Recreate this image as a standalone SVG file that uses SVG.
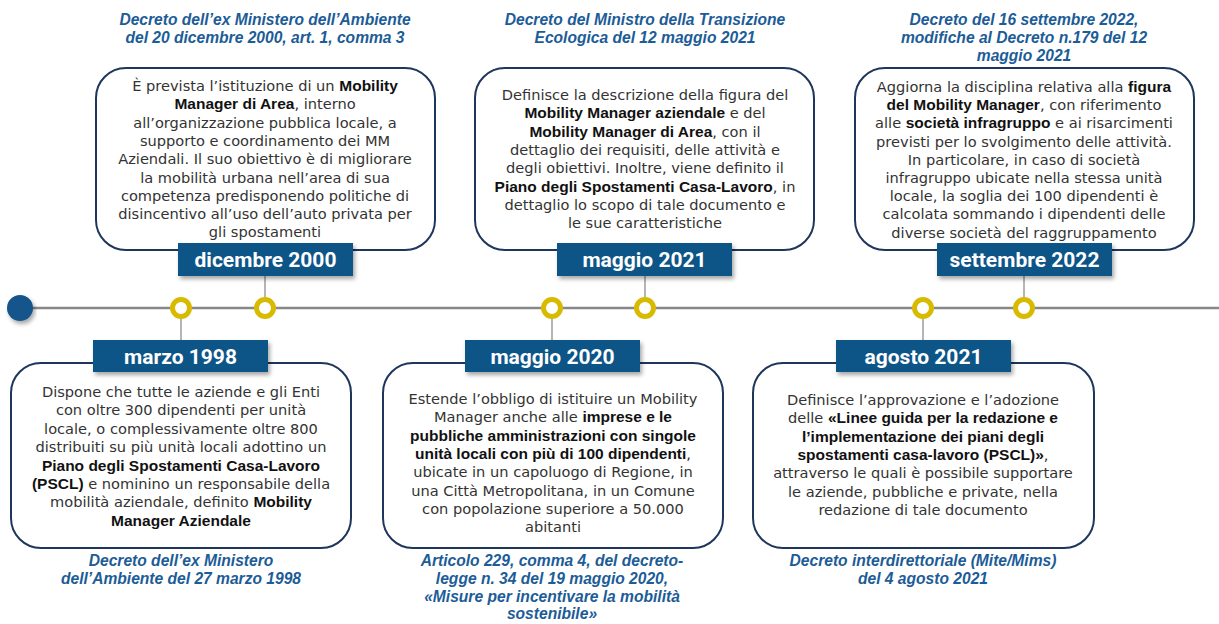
<svg xmlns="http://www.w3.org/2000/svg" width="1219" height="624" viewBox="0 0 1219 624">
<style>
.box{fill:#fff;stroke:#1e355c;stroke-width:2}
.lbl{fill:#0f5587;filter:url(#sh)}
.lt{font-family:Roboto,"Liberation Sans",sans-serif;font-weight:bold;font-size:21px;fill:#fff;text-anchor:middle}
.tx{font-family:"DejaVu Sans",sans-serif;font-size:14.6px;fill:#333;text-anchor:middle}
.b{font-family:"Liberation Sans",sans-serif;font-weight:bold;font-size:15.5px;fill:#111}
.cap{font-family:"Liberation Sans",sans-serif;font-weight:bold;font-style:italic;font-size:15.6px;fill:#1c5c97;text-anchor:middle}
.tl{stroke:#878787;stroke-width:2.5}
.cn{stroke:#9c9c9c;stroke-width:1.5}
.dot{fill:#fff;stroke:#d8bb00;stroke-width:5}
</style>
<defs>
<filter id="sh" x="-10%" y="-30%" width="125%" height="170%">
<feDropShadow dx="2" dy="3" stdDeviation="2" flood-color="#000" flood-opacity="0.35"/>
</filter>
</defs>
<g id="connectors">
<line class="tl" x1="20" y1="308" x2="1219" y2="308"/>
<line class="cn" x1="181" y1="308" x2="181" y2="340"/>
<line class="cn" x1="265" y1="276" x2="265" y2="308"/>
<line class="cn" x1="552" y1="308" x2="552" y2="340"/>
<line class="cn" x1="645" y1="276" x2="645" y2="308"/>
<line class="cn" x1="923" y1="308" x2="923" y2="340"/>
<line class="cn" x1="1024" y1="276" x2="1024" y2="308"/>
</g>
<g id="markers">
<circle cx="20" cy="308" r="13" fill="#14558c" filter="url(#sh)"/>
<circle class="dot" cx="181" cy="308" r="8.5"/>
<circle class="dot" cx="265" cy="308" r="8.5"/>
<circle class="dot" cx="552" cy="308" r="8.5"/>
<circle class="dot" cx="645" cy="308" r="8.5"/>
<circle class="dot" cx="923" cy="308" r="8.5"/>
<circle class="dot" cx="1024" cy="308" r="8.5"/>
</g>
<g id="node-dicembre-2000">
<text class="cap" x="265" y="25">Decreto dell’ex Ministero dell’Ambiente</text>
<text class="cap" x="265" y="43">del 20 dicembre 2000, art. 1, comma 3</text>
<rect class="box" x="96" y="68" width="339" height="182" rx="30"/>
<text class="tx" x="265" y="91">È prevista l’istituzione di un <tspan class="b">Mobility</tspan></text>
<text class="tx" x="265" y="109.3"><tspan class="b">Manager di Area</tspan>, interno</text>
<text class="tx" x="265" y="127.6">all’organizzazione pubblica locale, a</text>
<text class="tx" x="265" y="145.9">supporto e coordinamento dei MM</text>
<text class="tx" x="265" y="164.2">Aziendali. Il suo obiettivo è di migliorare</text>
<text class="tx" x="265" y="182.5">la mobilità urbana nell’area di sua</text>
<text class="tx" x="265" y="200.8">competenza predisponendo politiche di</text>
<text class="tx" x="265" y="219.1">disincentivo all’uso dell’auto privata per</text>
<text class="tx" x="265" y="237.4">gli spostamenti</text>
<rect class="lbl" x="178" y="243" width="175" height="33"/>
<text class="lt" x="265.5" y="267">dicembre 2000</text>
</g>
<g id="node-maggio-2021">
<text class="cap" x="645" y="25">Decreto del Ministro della Transizione</text>
<text class="cap" x="645" y="43">Ecologica del 12 maggio 2021</text>
<rect class="box" x="475" y="68" width="339" height="182" rx="30"/>
<text class="tx" x="645" y="100">Definisce la descrizione della figura del</text>
<text class="tx" x="645" y="118.3"><tspan class="b">Mobility Manager aziendale</tspan> e del</text>
<text class="tx" x="645" y="136.6"><tspan class="b">Mobility Manager di Area</tspan>, con il</text>
<text class="tx" x="645" y="154.9">dettaglio dei requisiti, delle attività e</text>
<text class="tx" x="645" y="173.2">degli obiettivi. Inoltre, viene definito il</text>
<text class="tx" x="645" y="191.5"><tspan class="b">Piano degli Spostamenti Casa-Lavoro</tspan>, in</text>
<text class="tx" x="645" y="209.8">dettaglio lo scopo di tale documento e</text>
<text class="tx" x="645" y="228.1">le sue caratteristiche</text>
<rect class="lbl" x="557" y="243" width="175" height="33"/>
<text class="lt" x="644.5" y="267">maggio 2021</text>
</g>
<g id="node-settembre-2022">
<text class="cap" x="1024" y="25">Decreto del 16 settembre 2022,</text>
<text class="cap" x="1024" y="43">modifiche al Decreto n.179 del 12</text>
<text class="cap" x="1024" y="61">maggio 2021</text>
<rect class="box" x="855" y="68" width="339" height="182" rx="30"/>
<text class="tx" x="1024" y="92">Aggiorna la disciplina relativa alla <tspan class="b">figura</tspan></text>
<text class="tx" x="1024" y="110.2"><tspan class="b">del Mobility Manager</tspan>, con riferimento</text>
<text class="tx" x="1024" y="128.4">alle <tspan class="b">società infragruppo</tspan> e ai risarcimenti</text>
<text class="tx" x="1024" y="146.6">previsti per lo svolgimento delle attività.</text>
<text class="tx" x="1024" y="164.8">In particolare, in caso di società</text>
<text class="tx" x="1024" y="183">infragruppo ubicate nella stessa unità</text>
<text class="tx" x="1024" y="201.2">locale, la soglia dei 100 dipendenti è</text>
<text class="tx" x="1024" y="219.4">calcolata sommando i dipendenti delle</text>
<text class="tx" x="1024" y="237.6">diverse società del raggruppamento</text>
<rect class="lbl" x="937" y="243" width="175" height="33"/>
<text class="lt" x="1024.5" y="267">settembre 2022</text>
</g>
<g id="node-marzo-1998">
<rect class="box" x="11" y="363" width="340" height="185" rx="30"/>
<text class="tx" x="181" y="397">Dispone che tutte le aziende e gli Enti</text>
<text class="tx" x="181" y="415.4">con oltre 300 dipendenti per unità</text>
<text class="tx" x="181" y="433.8">locale, o complessivamente oltre 800</text>
<text class="tx" x="181" y="452.2">distribuiti su più unità locali adottino un</text>
<text class="tx" x="181" y="470.6"><tspan class="b">Piano degli Spostamenti Casa-Lavoro</tspan></text>
<text class="tx" x="181" y="489"><tspan class="b">(PSCL)</tspan> e nominino un responsabile della</text>
<text class="tx" x="181" y="507.4">mobilità aziendale, definito <tspan class="b">Mobility</tspan></text>
<text class="tx" x="181" y="525.8"><tspan class="b">Manager Aziendale</tspan></text>
<rect class="lbl" x="93" y="340" width="175" height="32"/>
<text class="lt" x="180.5" y="363.5">marzo 1998</text>
<text class="cap" x="181" y="566">Decreto dell’ex Ministero</text>
<text class="cap" x="181" y="584">dell’Ambiente del 27 marzo 1998</text>
</g>
<g id="node-maggio-2020">
<rect class="box" x="383" y="363" width="340" height="185" rx="30"/>
<text class="tx" x="553" y="404">Estende l’obbligo di istituire un Mobility</text>
<text class="tx" x="553" y="422.3">Manager anche alle <tspan class="b">imprese e le</tspan></text>
<text class="tx" x="553" y="440.6"><tspan class="b">pubbliche amministrazioni con singole</tspan></text>
<text class="tx" x="553" y="458.9"><tspan class="b">unità locali con più di 100 dipendenti</tspan>,</text>
<text class="tx" x="553" y="477.2">ubicate in un capoluogo di Regione, in</text>
<text class="tx" x="553" y="495.5">una Città Metropolitana, in un Comune</text>
<text class="tx" x="553" y="513.8">con popolazione superiore a 50.000</text>
<text class="tx" x="553" y="532.1">abitanti</text>
<rect class="lbl" x="465" y="340" width="175" height="32"/>
<text class="lt" x="552.5" y="363.5">maggio 2020</text>
<text class="cap" x="552" y="566">Articolo 229, comma 4, del decreto-</text>
<text class="cap" x="552" y="584">legge n. 34 del 19 maggio 2020,</text>
<text class="cap" x="552" y="602">«Misure per incentivare la mobilità</text>
<text class="cap" x="552" y="619">sostenibile»</text>
</g>
<g id="node-agosto-2021">
<rect class="box" x="753" y="363" width="341" height="185" rx="30"/>
<text class="tx" x="923" y="405">Definisce l’approvazione e l’adozione</text>
<text class="tx" x="923" y="423.3">delle <tspan class="b">«Linee guida per la redazione e</tspan></text>
<text class="tx" x="923" y="441.6"><tspan class="b">l’implementazione dei piani degli</tspan></text>
<text class="tx" x="923" y="459.9"><tspan class="b">spostamenti casa-lavoro (PSCL)»</tspan>,</text>
<text class="tx" x="923" y="478.2">attraverso le quali è possibile supportare</text>
<text class="tx" x="923" y="496.5">le aziende, pubbliche e private, nella</text>
<text class="tx" x="923" y="514.8">redazione di tale documento</text>
<rect class="lbl" x="836" y="340" width="175" height="32"/>
<text class="lt" x="923.5" y="363.5">agosto 2021</text>
<text class="cap" x="923" y="566">Decreto interdirettoriale (Mite/Mims)</text>
<text class="cap" x="923" y="584">del 4 agosto 2021</text>
</g>
</svg>
